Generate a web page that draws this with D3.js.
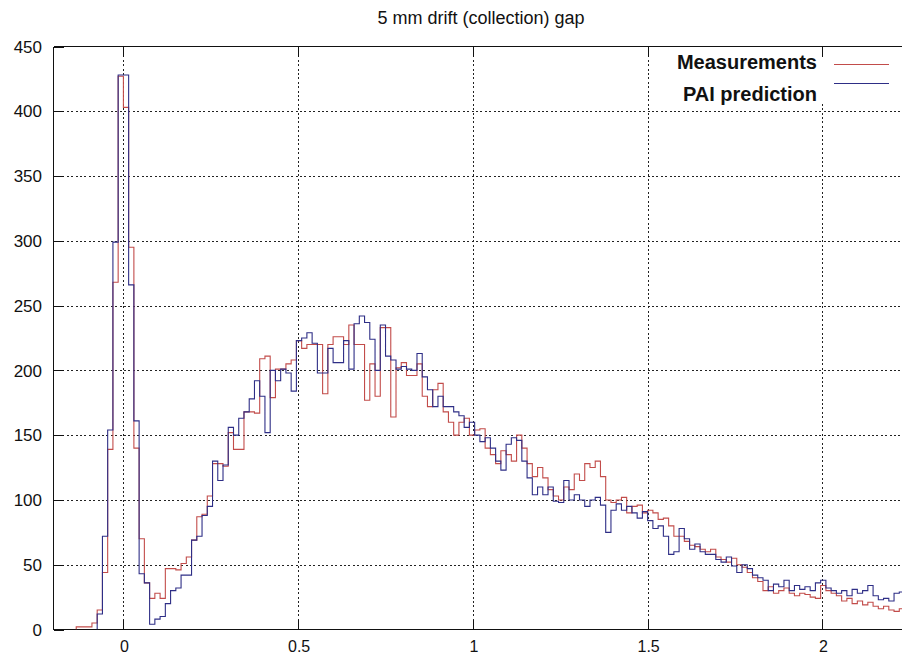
<!DOCTYPE html>
<html>
<head>
<meta charset="utf-8">
<script src="https://cdn.jsdelivr.net/npm/d3@7/dist/d3.min.js"></script>
<style>
  html, body { margin: 0; padding: 0; background: #fff; }
  svg { display: block; font-family: "Liberation Sans", Arial, Helvetica, sans-serif; }
</style>
</head>
<body>
<svg id="chart" width="902" height="656"></svg>
<script>
// Histogram bin layout (energy axis)
const binWidth = 0.015;
const measFirstBin = -9;   // index of the first measured bin
const predFirstBin = -5;   // index of the first predicted bin

// Measured counts per bin
const measurements = [
  2,2,2,5,15,44,139,268,427,403,295,140,70,36,24,28,24,47,47,46,51,56,69,87,89,103,128,
  128,126,152,139,139,168,168,167,209,211,179,201,201,205,208,223,217,220,220,220,182,220,
  226,226,220,235,220,220,177,205,180,233,233,164,202,206,196,196,
  205,180,172,185,190,168,160,150,160,163,
  150,154,155,140,135,128,138,135,130,150,
  140,128,118,125,117,108,103,100,110,108,
  120,115,128,125,130,118,100,98,100,102,
  90,95,96,90,92,90,85,86,80,72,
  72,68,65,64,62,60,62,56,54,52,
  55,50,48,44,40,37,30,33,28,30,
  32,28,26,28,27,25,24,34,30,28,
  26,22,24,20,22,19,21,18,16,18,
  15,14,16
];

// PAI model prediction per bin
const prediction = [
  12,72,154,299,428,428,266,161,43,36,4,8,10,20,30,32,42,42,69,72,88,95,130,
  115,127,156,150,163,168,178,192,180,152,200,192,201,198,184,223,225,229,221,198,
  198,217,206,206,223,201,236,242,237,224,200,235,211,208,201,203,201,200,
  213,195,185,172,180,172,172,168,165,156,
  160,150,145,148,140,130,123,143,148,146,
  130,117,104,110,104,110,99,98,115,100,
  104,100,95,100,102,96,75,92,97,92,
  95,90,86,91,84,78,80,72,58,60,
  78,70,62,66,60,58,58,54,52,56,
  49,44,50,47,42,40,38,30,35,33,
  38,30,34,31,33,30,36,38,32,30,
  28,30,26,31,28,30,34,26,23,24,
  22,28,29
];

const xTicks = [0, 0.5, 1, 1.5, 2];
const yTicks = [0, 50, 100, 150, 200, 250, 300, 350, 400, 450];
const seriesNames = ["Measurements", "PAI prediction"];
const seriesColors = ["#c24c4a", "#2e2e86"];
const title = "5 mm drift (collection) gap";

const svg = d3.select("#chart");
const W = 902, H = 656;
const plot = { left: 53.5, top: 46.5, bottom: 629.5 };

const x = d3.scaleLinear().domain([-0.2, 2.3]).range([plot.left, plot.left + 2.5 * 349.5]);
const y = d3.scaleLinear().domain([0, 450]).range([plot.bottom, plot.top]);
const plotRight = W + 5;

// Title
svg.append("text")
  .attr("x", 481).attr("y", 24)
  .attr("text-anchor", "middle")
  .attr("font-size", 18)
  .attr("fill", "#111")
  .text(title);

// Grid
const grid = svg.append("g").attr("stroke", "#222").attr("stroke-width", 1)
  .attr("stroke-dasharray", "2,2.4").attr("shape-rendering", "crispEdges");
grid.selectAll("line.h").data(yTicks.filter(d => d > 0 && d < 450)).join("line")
  .attr("x1", plot.left).attr("x2", plotRight)
  .attr("y1", d => Math.round(y(d)) + 0.5).attr("y2", d => Math.round(y(d)) + 0.5);
grid.selectAll("line.v").data(xTicks).join("line")
  .attr("x1", d => Math.round(x(d)) + 0.5).attr("x2", d => Math.round(x(d)) + 0.5)
  .attr("y1", plot.top).attr("y2", plot.bottom);

// Key background (opaque)
svg.append("rect").attr("x", 662).attr("y", 55).attr("width", 250).attr("height", 46).attr("fill", "#fff");

// Frame and ticks
const frame = svg.append("g").attr("stroke", "#111").attr("stroke-width", 1).attr("shape-rendering", "crispEdges");
frame.append("line").attr("x1", plot.left).attr("x2", plotRight).attr("y1", plot.top).attr("y2", plot.top);
frame.append("line").attr("x1", plot.left).attr("x2", plotRight).attr("y1", plot.bottom).attr("y2", plot.bottom);
frame.append("line").attr("x1", plot.left).attr("x2", plot.left).attr("y1", plot.top).attr("y2", plot.bottom);
xTicks.forEach(t => {
  const xp = Math.round(x(t)) + 0.5;
  frame.append("line").attr("x1", xp).attr("x2", xp).attr("y1", plot.bottom).attr("y2", plot.bottom - 10);
  frame.append("line").attr("x1", xp).attr("x2", xp).attr("y1", plot.top).attr("y2", plot.top + 10);
});
yTicks.forEach(t => {
  const yp = Math.round(y(t)) + 0.5;
  frame.append("line").attr("x1", plot.left).attr("x2", plot.left + 10).attr("y1", yp).attr("y2", yp);
});

// Tick labels
svg.append("g").selectAll("text").data(yTicks).join("text")
  .attr("x", 42).attr("y", d => y(d)).attr("dy", "0.36em")
  .attr("text-anchor", "end").attr("font-size", 17).attr("fill", "#111")
  .text(d => d);
svg.append("g").selectAll("text").data(xTicks).join("text")
  .attr("x", d => x(d) + 1).attr("y", 651.5)
  .attr("text-anchor", "middle").attr("font-size", 16).attr("fill", "#111")
  .text(d => d);

// Histograms as step lines
svg.append("clipPath").attr("id", "plotclip").append("rect")
  .attr("x", plot.left).attr("y", plot.top).attr("width", plotRight - plot.left).attr("height", plot.bottom - plot.top);

function stepPoints(values, firstBin) {
  const pts = [[(firstBin) * binWidth, 0]];
  values.forEach((v, i) => pts.push([(firstBin + i) * binWidth, v]));
  pts.push([(firstBin + values.length) * binWidth, values[values.length - 1]]);
  return pts;
}
const line = d3.line().x(d => x(d[0])).y(d => y(d[1])).curve(d3.curveStepAfter);
const hist = svg.append("g").attr("clip-path", "url(#plotclip)").attr("fill", "none").attr("stroke-width", 1.1);
hist.append("path").attr("d", line(stepPoints(measurements, measFirstBin))).attr("stroke", seriesColors[0]);
hist.append("path").attr("d", line(stepPoints(prediction, predFirstBin))).attr("stroke", seriesColors[1]);

// Key
const key = svg.append("g");
const keyText = [69, 101], keyLine = [64.5, 83.5];
seriesNames.forEach((name, i) => {
  key.append("text").attr("x", 817).attr("y", keyText[i]).attr("text-anchor", "end")
    .attr("font-size", 20).attr("font-weight", "bold").attr("fill", "#111").text(name);
  key.append("line").attr("x1", 834).attr("x2", 889).attr("y1", keyLine[i]).attr("y2", keyLine[i])
    .attr("stroke", seriesColors[i]).attr("stroke-width", 1.1);
});
</script>
</body>
</html>
